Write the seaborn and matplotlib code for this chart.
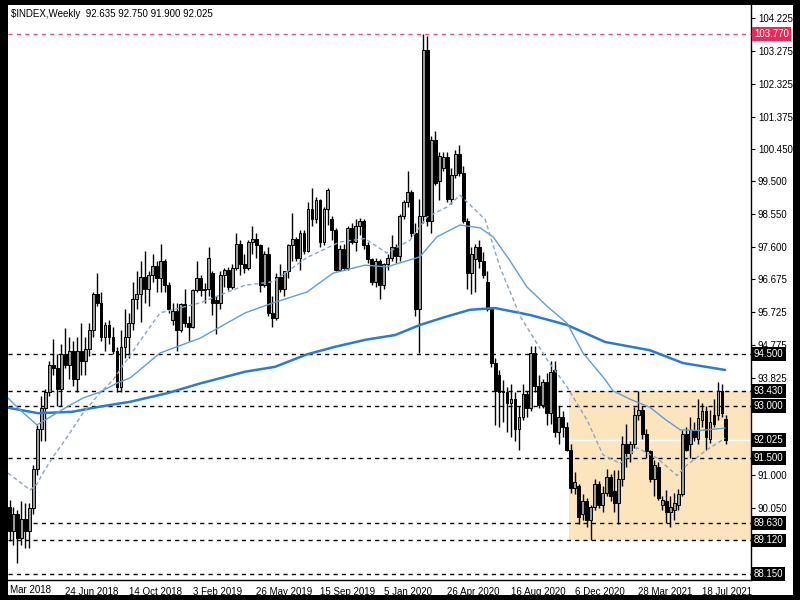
import pandas as pd
import matplotlib.pyplot as plt
import seaborn as sns
from matplotlib.patches import Rectangle
from matplotlib.transforms import blended_transform_factory

sns.set_style('white')
plt.rcParams['font.family'] = ['Liberation Sans', 'DejaVu Sans']

# weekly bars, first one = week of 18 Mar 2018
start_date = '2018-03-18'
opens = [90.10, 89.40, 89.90, 89.20, 89.75, 89.40, 90.05, 91.20, 92.35, 92.95,
         93.40, 94.20, 94.10, 93.50, 94.50, 94.20, 94.60, 93.80, 94.60, 94.30,
         94.65, 95.20, 96.25, 96.00, 95.00, 95.35, 95.00, 94.60, 93.55, 94.70,
         95.00, 95.40, 96.10, 96.25, 96.75, 96.40, 96.80, 97.05, 96.70, 97.20,
         96.50, 95.50, 95.75, 95.20, 95.95, 95.40, 95.30, 96.35, 96.70, 96.35,
         96.40, 96.85, 96.07, 95.98, 96.80, 96.95, 96.46, 97.00, 97.70, 97.10,
         97.00, 97.75, 97.85, 97.65, 96.50, 97.40, 95.70, 95.55, 96.75, 96.40,
         96.90, 97.65, 97.85, 97.30, 98.00, 97.50, 98.70, 98.40, 98.95, 97.75,
         98.70, 98.40, 98.10, 96.95, 97.55, 97.00, 98.15, 97.75, 98.20, 98.35,
         97.65, 97.25, 96.60, 97.20, 96.50, 97.10, 97.30, 97.60, 97.35, 98.50,
         98.90, 99.20, 98.00, 95.80, 98.50, 103.30, 98.35, 100.70, 99.50, 99.90,
         100.20, 99.00, 99.70, 100.30, 99.75, 98.35, 96.85, 97.25, 97.60, 97.20,
         96.60, 95.80, 94.25, 93.90, 93.40, 93.40, 93.10, 93.20, 92.35, 92.70,
         93.35, 92.95, 94.55, 93.60, 93.05, 93.70, 92.80, 94.05, 92.25, 92.70,
         92.40, 91.75, 90.65, 90.70, 89.90, 90.25, 89.70, 90.10, 90.75, 90.15,
         90.50, 90.95, 90.55, 90.20, 90.90, 91.90, 91.65, 91.90, 92.75, 92.90,
         92.20, 91.70, 90.90, 91.25, 90.15, 90.25, 89.95, 90.00, 90.15, 90.45,
         92.20, 91.90, 92.30, 92.05, 92.60, 92.85, 92.05, 92.75, 92.75, 93.45,
         92.635]
highs = [90.30, 90.10, 90.00, 90.25, 90.20, 90.20, 91.30, 92.45, 93.30, 93.50,
         94.30, 94.95, 94.50, 94.80, 95.25, 95.00, 94.90, 95.00, 95.40, 95.00,
         95.40, 96.30, 96.85, 96.30, 95.45, 95.50, 95.30, 94.70, 95.20, 95.80,
         95.70, 96.60, 96.90, 97.20, 97.50, 96.90, 97.40, 97.20, 97.70, 97.25,
         96.60, 96.00, 96.00, 96.00, 96.40, 95.60, 96.40, 97.20, 96.80, 96.55,
         97.60, 96.90, 96.20, 96.90, 97.00, 97.04, 97.10, 98.00, 97.80, 97.40,
         97.80, 98.20, 98.00, 97.70, 97.50, 97.60, 96.20, 96.85, 97.10, 96.90,
         97.70, 98.60, 97.90, 98.10, 98.10, 98.90, 99.30, 99.05, 99.00, 98.75,
         99.30, 98.50, 98.15, 97.65, 97.70, 98.20, 98.30, 98.40, 98.45, 98.40,
         97.75, 97.30, 97.30, 97.25, 97.15, 97.40, 97.95, 97.70, 98.55, 98.95,
         99.80, 99.25, 98.30, 99.00, 103.77, 103.70, 100.80, 100.95, 100.35, 100.35,
         100.35, 99.90, 100.40, 100.55, 99.95, 98.45, 97.60, 97.70, 97.80, 97.45,
         96.90, 95.85, 94.40, 94.05, 93.75, 93.55, 93.65, 93.40, 93.00, 93.65,
         93.45, 94.75, 94.75, 93.90, 93.80, 93.95, 94.30, 94.30, 93.00, 92.85,
         92.55, 91.90, 91.10, 90.75, 90.45, 90.35, 90.15, 90.90, 90.85, 90.70,
         91.20, 91.05, 91.15, 91.15, 92.15, 92.50, 92.00, 92.99, 93.43, 93.00,
         92.35, 91.75, 91.45, 91.40, 90.40, 90.58, 90.40, 90.48, 90.60, 92.30,
         92.40, 92.70, 92.55, 93.20, 93.10, 93.00, 92.90, 93.20, 93.70, 93.65,
         92.75]
lows = [89.10, 89.00, 88.47, 89.00, 88.90, 88.90, 89.90, 91.00, 92.00, 92.00,
        93.30, 93.90, 93.00, 93.00, 94.10, 93.80, 93.60, 93.40, 93.90, 93.90,
        94.45, 95.00, 95.90, 94.90, 94.60, 94.80, 94.50, 93.40, 93.40, 94.40,
        94.40, 95.20, 95.80, 95.45, 96.00, 95.90, 96.60, 96.30, 96.30, 96.30,
        95.70, 95.35, 94.60, 95.15, 95.30, 94.90, 95.25, 96.30, 96.20, 95.98,
        96.20, 95.65, 95.10, 95.80, 96.46, 96.37, 96.40, 96.95, 96.80, 96.85,
        96.95, 97.40, 97.30, 96.30, 96.45, 95.60, 95.30, 95.50, 96.30, 96.20,
        96.70, 97.20, 97.20, 96.95, 97.40, 97.45, 98.20, 98.30, 97.60, 97.65,
        98.25, 97.80, 96.90, 96.90, 96.95, 96.95, 97.70, 97.50, 97.95, 97.55,
        97.15, 96.50, 96.45, 96.10, 96.40, 96.95, 97.20, 97.15, 97.20, 98.40,
        98.75, 97.90, 95.60, 94.55, 98.30, 98.20, 98.00, 99.40, 98.95, 99.80,
        98.90, 98.85, 99.60, 99.65, 98.30, 96.40, 96.25, 96.30, 97.00, 96.70,
        95.75, 94.15, 92.45, 92.40, 92.55, 92.25, 92.10, 92.00, 91.75, 92.60,
        92.70, 92.85, 93.40, 92.95, 92.95, 92.45, 92.50, 92.10, 91.90, 92.10,
        91.70, 90.50, 90.45, 89.60, 89.70, 89.50, 89.12, 90.00, 90.05, 89.95,
        90.40, 90.25, 89.95, 89.60, 90.70, 91.25, 91.40, 91.80, 92.60, 92.05,
        91.50, 90.80, 90.40, 90.30, 90.00, 89.62, 89.52, 89.72, 90.00, 90.40,
        91.70, 91.50, 92.00, 91.90, 92.40, 91.75, 91.95, 92.40, 92.60, 92.70,
        91.90]
closes = [89.40, 89.90, 89.20, 89.75, 89.40, 90.05, 91.20, 92.35, 92.95, 93.40,
          94.20, 94.10, 93.50, 94.50, 94.20, 94.60, 93.80, 94.60, 94.30, 94.65,
          95.20, 96.25, 96.00, 95.00, 95.35, 95.00, 94.60, 93.55, 94.70, 95.00,
          95.40, 96.10, 96.25, 96.75, 96.40, 96.80, 97.05, 96.70, 97.20, 96.50,
          95.80, 95.75, 95.20, 95.95, 95.40, 95.30, 96.35, 96.70, 96.35, 96.40,
          97.30, 96.00, 95.98, 96.80, 96.95, 96.46, 97.00, 97.70, 97.10, 97.00,
          97.75, 97.85, 97.65, 96.50, 97.40, 95.70, 95.55, 96.75, 96.40, 96.90,
          97.65, 97.85, 97.30, 98.00, 97.50, 98.70, 98.40, 98.95, 97.75, 98.70,
          99.25, 98.10, 96.95, 97.55, 97.00, 98.15, 97.75, 98.20, 98.35, 97.65,
          97.25, 96.60, 97.20, 96.50, 97.10, 97.30, 97.60, 97.35, 98.50, 98.90,
          99.20, 98.00, 95.80, 98.50, 103.30, 98.35, 100.70, 99.45, 100.25, 100.20,
          99.00, 99.70, 100.30, 99.75, 98.35, 96.85, 97.40, 97.60, 97.20, 96.80,
          95.80, 94.25, 93.45, 93.40, 93.45, 93.10, 93.20, 92.35, 92.70, 93.35,
          92.95, 94.55, 93.60, 93.05, 93.70, 92.80, 94.00, 92.25, 92.70, 92.40,
          91.75, 90.65, 90.80, 89.80, 90.25, 89.70, 90.10, 90.75, 90.15, 90.50,
          90.95, 90.40, 90.20, 90.90, 91.90, 91.65, 91.90, 92.75, 92.90, 92.20,
          91.70, 90.90, 91.30, 90.35, 90.30, 89.95, 90.10, 90.20, 90.45, 92.20,
          91.75, 92.30, 92.10, 92.65, 92.85, 92.10, 92.55, 92.50, 93.45, 92.80,
          92.025]

# moving averages (bar index, value)
ma_long_bar = [-0.4, 7.2, 15.7, 22.7, 30.3, 39.7, 47.9, 59.2, 66.7, 74.7, 81.8, 89.3,
               96.9, 103.1, 109.4, 115.7, 122, 130.8, 140.1, 149.6, 160.9, 169.2, 179.8]
ma_long_val = [92.96, 92.80, 92.84, 92.99, 93.13, 93.38, 93.66, 94.00, 94.14, 94.50, 94.72, 94.92,
               95.06, 95.35, 95.58, 95.79, 95.84, 95.64, 95.35, 94.86, 94.62, 94.25, 94.05]
ma_mid_bar = [-0.4, 2.6, 6.9, 10.2, 14.4, 18.5, 22.7, 27, 30.3, 37.8, 47.9, 59.2, 66.2, 74.7,
              81.3, 89.3, 94.8, 103.1, 107.4, 113.2, 118.2, 121.5, 125.5, 130, 135, 140.1,
              144.1, 149.6, 151.6, 156, 160.9, 165, 168.5, 173.5, 179.8]
ma_mid_val = [93.24, 92.90, 92.46, 92.69, 92.98, 93.24, 93.41, 93.67, 93.82, 94.54, 94.97, 95.70,
              95.99, 96.30, 96.85, 97.08, 97.03, 97.32, 97.90, 98.24, 98.16, 97.90, 97.25, 96.45,
              95.90, 95.40, 94.54, 93.78, 93.45, 93.20, 92.97, 92.60, 92.32, 92.30, 92.37]
ma_fast_bar = [-0.4, 1.9, 5.2, 6.9, 8.4, 10.9, 14.4, 18.5, 22.7, 26, 30.3, 37.8, 47.9, 59.2,
               66.2, 74.7, 83, 89.3, 94.8, 100.6, 104.9, 109.9, 113.2, 119.5, 123.2, 128.3,
               135.1, 140.1, 145.1, 149.1, 153.4, 157.7, 162.7, 167.7, 170.2, 175.3, 179.8]
ma_fast_val = [91.07, 90.87, 90.58, 90.75, 91.07, 91.53, 92.10, 92.81, 93.38, 93.76, 94.48, 95.70,
               95.99, 96.50, 96.60, 97.30, 97.75, 97.85, 97.43, 97.80, 98.47, 98.76, 99.10, 98.40,
               97.03, 95.60, 94.34, 93.56, 92.60, 91.60, 91.35, 91.80, 91.50, 91.00, 91.30,
               91.75, 92.08]

levels = [94.500, 93.430, 93.000, 91.500, 89.630, 89.120, 88.150]
top_level = 103.770
bid = 92.025
zone_bar = 140.6
zone_top, zone_bottom = 93.430, 89.120

# regular scale ticks; the ones under a level label carry no text
price_ticks = [104.225, 103.275, 102.325, 101.375, 100.450, 99.500, 98.550, 97.600, 96.675,
               95.725, 94.775, 93.825, 92.900, 91.950, 91.000, 90.050, 89.100, 88.150]
hidden_ticks = [92.900, 91.950, 89.100, 88.150]
date_labels = ['4 Mar 2018', '24 Jun 2018', '14 Oct 2018', '3 Feb 2019', '26 May 2019',
               '15 Sep 2019', '5 Jan 2020', '26 Apr 2020', '16 Aug 2020', '6 Dec 2020',
               '28 Mar 2021', '18 Jul 2021']

df = pd.DataFrame({'open': opens, 'high': highs, 'low': lows, 'close': closes})
df['bar'] = range(len(df))
df['bottom'] = df[['open', 'close']].min(axis=1)
df['height'] = (df['close'] - df['open']).abs().clip(lower=0.02)
bull = df[df['close'] >= df['open']]
bear = df[df['close'] < df['open']]

fig = plt.figure(figsize=(8, 6), dpi=100, facecolor='black')
fig.add_artist(Rectangle((8 / 800, 5 / 600), 785 / 800, 590 / 600, transform=fig.transFigure,
                         facecolor='white', edgecolor='none', zorder=0))
ax = fig.add_axes([8 / 800, 20 / 600, 743 / 800, 575 / 600])
ax.set_facecolor('white')

# zone + horizontal levels
ax.add_patch(Rectangle((zone_bar, zone_bottom), 100, zone_top - zone_bottom,
                       facecolor='#fce4bc', edgecolor='none', zorder=0.5))
ax.axhline(bid, color='white', lw=1, zorder=0.8)
for lvl in levels:
    ax.axhline(lvl, color='black', lw=1, ls=(0, (3, 3)), zorder=1)
ax.axhline(top_level, color='#e0557a', lw=1, ls=(0, (3, 3)), zorder=1)

# candles
ax.vlines(df['bar'], df['low'], df['high'], color='black', lw=1, zorder=2)
ax.bar(bull['bar'], bull['height'], bottom=bull['bottom'], width=0.72,
       color='#9a9a9a', edgecolor='black', linewidth=0.7, zorder=3)
ax.bar(bear['bar'], bear['height'], bottom=bear['bottom'], width=0.72,
       color='black', edgecolor='black', linewidth=0.7, zorder=3)

# moving averages
sns.lineplot(x=ma_long_bar, y=ma_long_val, ax=ax, color='#2a7bd3', lw=1.8, zorder=4, errorbar=None)
sns.lineplot(x=ma_mid_bar, y=ma_mid_val, ax=ax, color='#5d9fd8', lw=1.0, zorder=4, errorbar=None)
sns.lineplot(x=ma_fast_bar, y=ma_fast_val, ax=ax, color='#8aa6c4', lw=1.0,
             linestyle=(0, (3, 2)), zorder=4, errorbar=None)

ax.set_xlim(-0.38, 186.3)
ax.set_ylim(87.978, 104.601)

# axes frame
for side in ['left', 'top']:
    ax.spines[side].set_visible(False)
for side in ['right', 'bottom']:
    ax.spines[side].set_color('black')
    ax.spines[side].set_linewidth(1)

# price scale
ax.yaxis.tick_right()
ax.set_yticks(price_ticks)
ax.set_yticklabels(['' if v in hidden_ticks else f'{v:.3f}' for v in price_ticks])
ax.tick_params(axis='y', direction='out', length=3, width=0.8, colors='black', labelsize=7, pad=2)

trans = blended_transform_factory(ax.transAxes, ax.transData)
for lvl in levels + [bid]:
    ax.text(1.004, lvl, f'{lvl:.3f}', transform=trans, ha='left', va='center', color='white',
            fontsize=7, clip_on=False, zorder=6,
            bbox=dict(boxstyle='square,pad=0.2', facecolor='black', edgecolor='none'))
ax.text(1.004, top_level, f'{top_level:.3f}', transform=trans, ha='left', va='center',
        color='white', fontsize=7, clip_on=False, zorder=6,
        bbox=dict(boxstyle='square,pad=0.2', facecolor='#e8295a', edgecolor='none'))

# time scale
start = pd.Timestamp(start_date)
tick_pos = [(pd.Timestamp(d) - start).days // 7 for d in date_labels]
ax.set_xticks(tick_pos[1:])
ax.set_xticklabels(date_labels[1:], ha='left')
ax.tick_params(axis='x', direction='out', length=3, width=0.8, colors='black', labelsize=7, pad=2)
xtrans = blended_transform_factory(ax.transData, ax.transAxes)
ax.text(tick_pos[0], -0.0085, date_labels[0], transform=xtrans, ha='left', va='top',
        fontsize=7, color='black', clip_on=False)
ax.set_xlabel('')
ax.set_ylabel('')

fig.text(11 / 800, 1 - 14 / 600, '$INDEX,Weekly  92.635 92.750 91.900 92.025',
         fontsize=7, color='black', va='center', ha='left')

fig.savefig('out.png', dpi=100, facecolor='black')
